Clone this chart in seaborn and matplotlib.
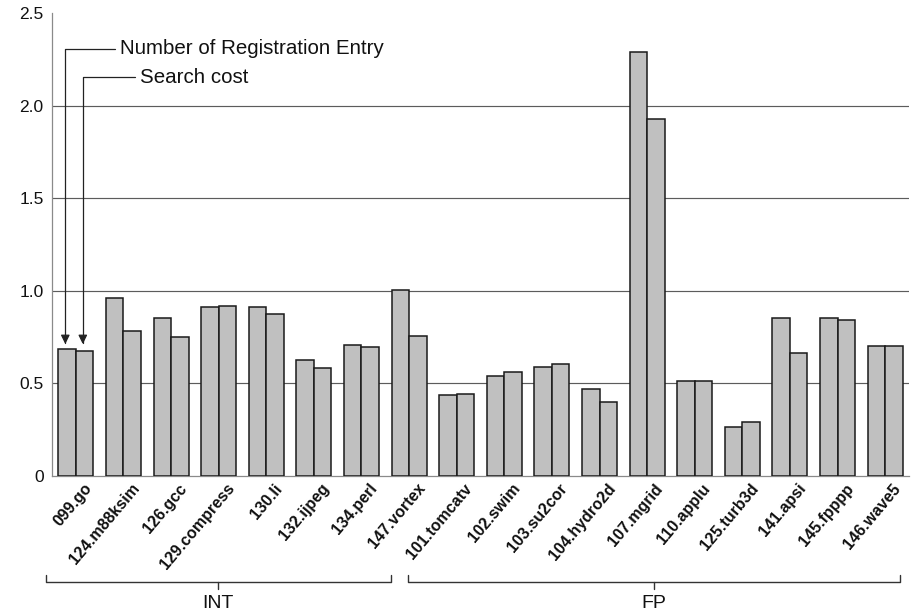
import matplotlib
matplotlib.use("Agg")
import matplotlib.pyplot as plt
import matplotlib.transforms as mtransforms
import pandas as pd
import seaborn as sns

# Benchmarks, grouped INT / FP
benchmarks = ["099.go", "124.m88ksim", "126.gcc", "129.compress", "130.li",
              "132.ijpeg", "134.perl", "147.vortex",
              "101.tomcatv", "102.swim", "103.su2cor", "104.hydro2d", "107.mgrid",
              "110.applu", "125.turb3d", "141.apsi", "145.fpppp", "146.wave5"]
registration_entries = [0.685, 0.960, 0.852, 0.913, 0.913, 0.624, 0.705, 1.005,
                        0.435, 0.541, 0.586, 0.468, 2.289, 0.514, 0.264, 0.852,
                        0.852, 0.701]
search_cost = [0.674, 0.784, 0.753, 0.917, 0.875, 0.584, 0.694, 0.757,
               0.442, 0.559, 0.606, 0.399, 1.927, 0.514, 0.290, 0.665,
               0.845, 0.701]
series_names = ["Number of Registration Entry", "Search cost"]
group_names = ["INT", "FP"]
group_members = [benchmarks[:8], benchmarks[8:]]
y_ticks = [0, 0.5, 1.0, 1.5, 2.0, 2.5]
y_tick_labels = ["0", "0.5", "1.0", "1.5", "2.0", "2.5"]

df = pd.DataFrame({
    "benchmark": benchmarks * 2,
    "series": [series_names[0]] * len(benchmarks) + [series_names[1]] * len(benchmarks),
    "value": registration_entries + search_cost,
})

sns.set_style("white")
plt.rcParams["font.family"] = ["Liberation Sans", "DejaVu Sans"]

W, H = 913, 613
fig = plt.figure(figsize=(W / 100, H / 100), dpi=100)
ax = fig.add_axes([52 / W, 1 - 476 / H, (909 - 52) / W, (476 - 13) / H])

sns.barplot(data=df, x="benchmark", y="value", hue="series",
            order=benchmarks, hue_order=series_names,
            palette=["#c0c0c0", "#c0c0c0"], saturation=1, width=0.735,
            edgecolor="#1a1a1a", linewidth=1.1, legend=False, ax=ax, zorder=3)

ax.set_xlim(-0.5, len(benchmarks) - 0.5)
ax.set_ylim(y_ticks[0], y_ticks[-1])
ax.set_xlabel("")
ax.set_ylabel("")

for side in ("top", "right"):
    ax.spines[side].set_visible(False)
for side in ("left", "bottom"):
    ax.spines[side].set_color("#8a8a8a")
    ax.spines[side].set_linewidth(0.9)

# horizontal reference lines between the axis ends
for yv in y_ticks[1:-1]:
    ax.axhline(yv, color="#5c5c5c", linewidth=0.85, zorder=1)

ax.set_yticks(y_ticks)
ax.set_yticklabels(y_tick_labels, fontsize=12.5, color="#111111")
ax.tick_params(axis="y", length=0, pad=6)

ax.set_xticks(range(len(benchmarks)))
ax.set_xticklabels(benchmarks, rotation=50, ha="right", va="center",
                   rotation_mode="anchor", fontweight="bold", fontsize=11.5,
                   color="#111111")
ax.tick_params(axis="x", length=0, pad=7)
shift = mtransforms.ScaledTranslation(0.13, 0, fig.dpi_scale_trans)
for lbl in ax.get_xticklabels():
    lbl.set_transform(lbl.get_transform() + shift)

# callouts naming the two series on the first benchmark
text_pos = [(0.92, 2.307), (1.34, 2.154)]
for i, name in enumerate(series_names):
    bar = ax.containers[i][0]
    bx = bar.get_x() + 0.4 * bar.get_width()
    ax.annotate(name, xy=(bx, 0.712), xytext=text_pos[i],
                textcoords="data", ha="left", va="center", fontsize=14.8,
                color="#111111",
                arrowprops=dict(arrowstyle="-|>,head_length=0.45,head_width=0.22",
                                mutation_scale=12,
                                connectionstyle="angle,angleA=0,angleB=90,rad=0",
                                relpos=(0, 0.5), shrinkA=1, shrinkB=0,
                                color="#222222", lw=0.9))

# brackets under the tick labels for the INT / FP groups
trans = mtransforms.blended_transform_factory(ax.transData, fig.transFigure)
brace_extent = [(-0.62, -0.39), (-1.03, 0.32)]
y_end = 1 - 575 / H
y_bar = 1 - 581.5 / H
y_tip = 1 - 589 / H
y_lbl = 1 - 603 / H
for name, members, (dl, dr) in zip(group_names, group_members, brace_extent):
    x0 = benchmarks.index(members[0]) + dl
    x1 = benchmarks.index(members[-1]) + dr
    xm = (x0 + x1) / 2
    ax.plot([x0, x0, x1, x1], [y_end, y_bar, y_bar, y_end], transform=trans,
            clip_on=False, color="#333333", lw=1.0)
    ax.plot([xm, xm], [y_bar, y_tip], transform=trans, clip_on=False,
            color="#333333", lw=1.0)
    ax.text(xm, y_lbl, name, transform=trans, ha="center", va="center",
            fontsize=14, color="#111111")

fig.savefig("out.png", dpi=100)
